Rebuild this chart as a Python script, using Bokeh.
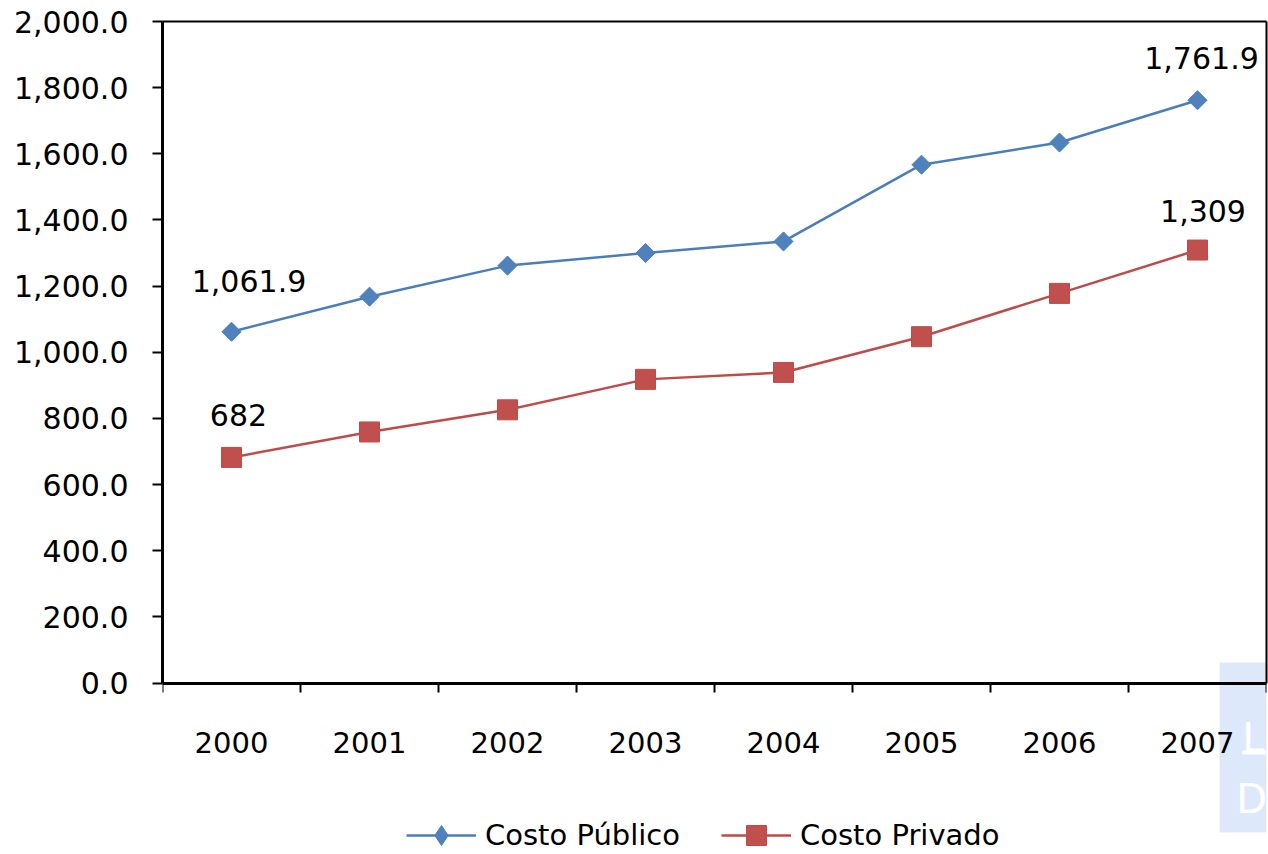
from bokeh.plotting import figure
from bokeh.models import (Range1d, FixedTicker, NumeralTickFormatter, Legend,
                          LegendItem, Label, ColumnDataSource, LinearAxis, BoxAnnotation)
from bokeh.core.properties import value
from bokeh.embed import file_html
from bokeh.resources import INLINE

# ---- data ----
years = ["2000", "2001", "2002", "2003", "2004", "2005", "2006", "2007"]
costo_publico = [1061.9, 1168, 1262, 1300, 1335, 1567, 1634, 1761.9]
costo_privado = [682, 759, 826, 918, 939, 1047, 1178, 1309]
y_ticks = [0, 200, 400, 600, 800, 1000, 1200, 1400, 1600, 1800, 2000]

FONT = "DejaVu Sans"
BLUE_LINE, BLUE_FILL = "#4A7EBB", "#4F81BD"
RED_LINE, RED_FILL = "#BE4B48", "#C0504D"

n = len(years)
xs = [2 * i + 1 for i in range(n)]          # category centres
bounds = [2 * i for i in range(n + 1)]      # category boundaries

Y_MAX = 2000
Y_MIN = -518.5   # room under the axis for the year labels and the legend

p = figure(width=1268, height=854, x_range=Range1d(0, 2 * n), y_range=Range1d(Y_MIN, Y_MAX),
           output_backend="svg", toolbar_location=None,
           min_border_left=162, min_border_top=21, min_border_right=2, min_border_bottom=0)

p.background_fill_color = "white"
p.border_fill_color = "white"
p.outline_line_color = None
p.xgrid.visible = False
p.ygrid.visible = False

# x axis drawn at y = 0: ticks on boundaries (minor), labels at centres (major)
xa = p.xaxis[0]
xa.fixed_location = 0
xa.ticker = FixedTicker(ticks=xs, minor_ticks=bounds)
xa.major_label_overrides = {x: y for x, y in zip(xs, years)}
xa.major_tick_out = 0
xa.major_tick_in = 0
xa.minor_tick_out = 9
xa.minor_tick_in = 0
xa.minor_tick_line_width = 2
xa.minor_tick_line_color = "black"
xa.axis_line_width = 3
xa.axis_line_color = "black"
xa.major_label_standoff = 40
xa.major_label_text_font = FONT
xa.major_label_text_font_size = "29px"
xa.major_label_text_color = "black"

ya = p.yaxis[0]
ya.bounds = (0, Y_MAX)
ya.ticker = FixedTicker(ticks=y_ticks, minor_ticks=[])
ya.formatter = NumeralTickFormatter(format="0,0.0")
ya.major_tick_out = 10
ya.major_tick_in = 0
ya.major_tick_line_width = 2
ya.minor_tick_out = 0
ya.axis_line_width = 3
ya.axis_line_color = "black"
ya.major_label_standoff = 24
ya.major_label_text_font = FONT
ya.major_label_text_font_size = "30px"
ya.major_label_text_color = "black"

# plot-area border on top and right (plain axes with no ticks)
top_ax = LinearAxis(ticker=FixedTicker(ticks=[]), major_tick_out=0, major_tick_in=0,
                    minor_tick_out=0, axis_line_width=2, axis_line_color="black",
                    major_label_text_font_size="0px")
right_ax = LinearAxis(ticker=FixedTicker(ticks=[]), major_tick_out=0, major_tick_in=0,
                      minor_tick_out=0, axis_line_width=2, axis_line_color="black",
                      major_label_text_font_size="0px", bounds=(0, Y_MAX))
p.add_layout(top_ax, "above")
p.add_layout(right_ax, "right")

# light blue side tab at the lower right (under the axes)
p.add_layout(BoxAnnotation(left=15.32, right=None, bottom=-451.7, top=62,
                           fill_color="#dde8fb", fill_alpha=1, line_color=None, level="glyph"))
p.add_layout(BoxAnnotation(left=15.65, right=None, bottom=-216, top=-204,
                           fill_color="white", fill_alpha=1, line_color=None, level="glyph"))
for txt, tx, ty in (("L", 15.65, -164.8), ("D", 15.56, -349.2)):
    p.add_layout(Label(x=tx, y=ty, text=txt, text_color="white", text_font=FONT,
                       text_font_size="40px", text_align="left", text_baseline="alphabetic",
                       level="glyph"))

# series
l1 = p.line(xs, costo_publico, line_color=BLUE_LINE, line_width=2.5)
s1 = p.scatter(xs, costo_publico, marker="square", angle=0.785398, size=13.5,
               fill_color=BLUE_FILL, line_color=BLUE_LINE)
l2 = p.line(xs, costo_privado, line_color=RED_LINE, line_width=2.5)
s2 = p.scatter(xs, costo_privado, marker="square", size=20,
               fill_color=RED_FILL, line_color=RED_LINE)
# placeholder renderer (no visible point), only gives the legend its diamond swatch
s1_leg = p.scatter(x=[float("nan")], y=[float("nan")], marker="diamond", size=20,
                   fill_color=BLUE_FILL, line_color=BLUE_LINE)

# data labels (first and last point of each series)
lab_src = ColumnDataSource(dict(
    x=[xs[0], xs[-1], xs[0], xs[-1]],
    y=[costo_publico[0], costo_publico[-1], costo_privado[0], costo_privado[-1]],
    text=["1,061.9", "1,761.9", "682", "1,309"],
    dx=[17.5, 4, 7, 5.5],
    dy=[-51, -42, -42, -39],
))
p.text(x="x", y="y", text="text", source=lab_src, x_offset="dx", y_offset="dy",
       text_align="center", text_baseline="middle", text_color="black",
       text_font=value(FONT), text_font_size="30px")

# legend at the bottom of the page
leg = Legend(items=[LegendItem(label="Costo Público", renderers=[l1, s1_leg]),
                    LegendItem(label="Costo Privado", renderers=[l2, s2])],
             location=(244, -6), orientation="horizontal",
             glyph_width=70, glyph_height=50, label_standoff=9, spacing=41,
             padding=0, margin=0, border_line_color=None, background_fill_alpha=0,
             label_text_font=FONT, label_text_font_size="29px", label_text_color="black")
p.add_layout(leg, "center")

open("out.html", "w").write(file_html(p, INLINE))
